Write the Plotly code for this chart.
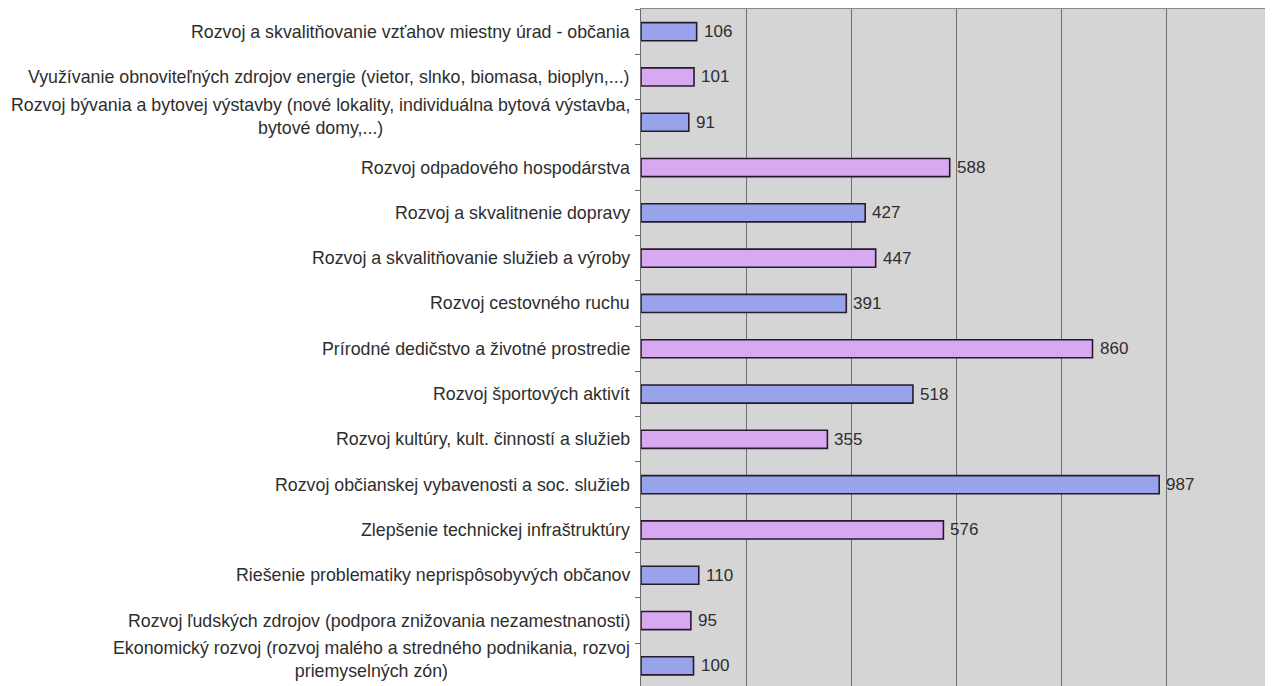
import plotly.graph_objects as go

categories = [
    "Rozvoj a skvalitňovanie vzťahov miestny úrad - občania",
    "Využívanie obnoviteľných zdrojov energie (vietor, slnko, biomasa, bioplyn,...)",
    "Rozvoj bývania a bytovej výstavby (nové lokality, individuálna bytová výstavba,<br>bytové domy,...)",
    "Rozvoj odpadového hospodárstva",
    "Rozvoj a skvalitnenie dopravy",
    "Rozvoj a skvalitňovanie služieb a výroby",
    "Rozvoj cestovného ruchu",
    "Prírodné dedičstvo a životné prostredie",
    "Rozvoj športových aktivít",
    "Rozvoj kultúry, kult. činností a služieb",
    "Rozvoj občianskej vybavenosti a soc. služieb",
    "Zlepšenie technickej infraštruktúry",
    "Riešenie problematiky neprispôsobyvých občanov",
    "Rozvoj ľudských zdrojov (podpora znižovania nezamestnanosti)",
    "Ekonomický rozvoj (rozvoj malého a stredného podnikania, rozvoj<br>priemyselných zón)",
]
values = [106, 101, 91, 588, 427, 447, 391, 860, 518, 355, 987, 576, 110, 95, 100]

BLUE = "#97a4ec"
PINK = "#d6a9f0"
TEXT = "#2e2e2e"
FONT = "Liberation Sans, Arial"
colors = [BLUE if i % 2 == 0 else PINK for i in range(len(values))]

fig = go.Figure()
fig.add_trace(go.Bar(
    x=values,
    y=categories,
    orientation="h",
    width=0.4,
    marker=dict(color=colors, line=dict(color="#2b1830", width=1.6)),
    showlegend=False,
    hoverinfo="x+y",
))

annotations = []
# category labels: right-anchored block, lines centred within it
for c in categories:
    multi = "<br>" in c
    annotations.append(dict(
        x=0, xref="paper", y=c, yref="y", text=c, showarrow=False,
        xanchor="right", yanchor="middle", align="center",
        xshift=-9, yshift=6 if multi else 0,
        font=dict(family=FONT, size=17.8, color=TEXT),
    ))

# value labels
for c, v in zip(categories, values):
    annotations.append(dict(
        x=v, xref="x", y=c, yref="y", text=str(v), showarrow=False,
        xanchor="left", yanchor="middle", xshift=5,
        font=dict(family=FONT, size=17, color=TEXT),
    ))

fig.update_layout(
    width=1265, height=678,
    margin=dict(l=633, r=2, t=1, b=0),
    paper_bgcolor="white",
    plot_bgcolor="#d5d5d5",
    annotations=annotations,
    xaxis=dict(
        range=[0, 1200], dtick=200, showgrid=True, gridcolor="#6f6f6f", gridwidth=1,
        showticklabels=False, zeroline=False,
        showline=True, linecolor="#8a8a8a", linewidth=1, mirror=True,
    ),
    yaxis=dict(
        type="category", range=[14.445, -0.5], showticklabels=False,
        ticks="outside", tickson="boundaries", ticklen=5, tickcolor="#6a6a6a",
        showgrid=False, zeroline=False,
        showline=True, linecolor="#6a6a6a", linewidth=1, mirror=True,
    ),
)

fig.write_html("out.html")
